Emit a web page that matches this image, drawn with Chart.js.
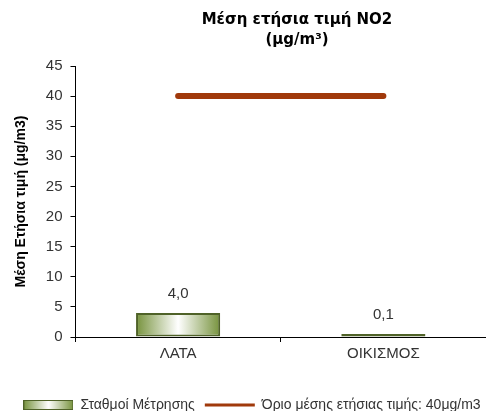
<!doctype html>
<html lang="el">
<head>
<meta charset="utf-8">
<title>Μέση ετήσια τιμή NO2</title>
<style>
  html, body {margin: 0; padding: 0; background: #fff;}
  canvas {display: block;}
</style>
<script src="https://cdn.jsdelivr.net/npm/chart.js@4.4.1/dist/chart.umd.min.js"></script>
</head>
<body>
<canvas id="myChart" width="486" height="411"></canvas>
<script>
// data
var stations = ["ΛΑΤΑ", "ΟΙΚΙΣΜΟΣ"];
var no2Values = [4.0, 0.1];
var limitValues = [40, 40];
var yTicks = [0, 5, 10, 15, 20, 25, 30, 35, 40, 45];
var titleLines = ["Μέση ετήσια τιμή NO2", "(μg/m³)"];
var yTitle = "Μέση Ετήσια τιμή (μg/m3)";
var seriesNames = ["Σταθμοί Μέτρησης", "Όριο μέσης ετήσιας τιμής: 40μg/m3"];

var GREEN = "#76923c";
var GREEN_DARK = "#4f6228";
var RED = "#a0390b";
var BAR_PCT = 0.41;
var LEGEND_BOX = 50;
var FONT = "'Liberation Sans', Arial, sans-serif";

function barGradient(ctx2d, x0, x1) {
  var g = ctx2d.createLinearGradient(x0, 0, x1, 0);
  g.addColorStop(0, GREEN);
  g.addColorStop(0.5, "#ffffff");
  g.addColorStop(1, GREEN);
  return g;
}

// gradient per bar, built from the x scale
function barFill(c) {
  var chart = c.chart;
  var xs = chart.scales.x;
  if (!xs || c.dataIndex === undefined || !chart.chartArea) return GREEN;
  var cx = xs.getPixelForValue(c.dataIndex);
  var half = xs.width / stations.length * BAR_PCT / 2;
  return barGradient(chart.ctx, cx - half, cx + half);
}

// small canvas used as the legend swatch for the bars
var swatch = document.createElement("canvas");
swatch.width = LEGEND_BOX;
swatch.height = 10;
(function() {
  var s = swatch.getContext("2d");
  s.fillStyle = barGradient(s, 0, LEGEND_BOX);
  s.fillRect(0, 0, LEGEND_BOX, 10);
  s.strokeStyle = GREEN_DARK;
  s.lineWidth = 1;
  s.strokeRect(0.5, 0.5, LEGEND_BOX - 1, 9);
})();

// value labels above bars, greek decimal comma
var valueLabels = {
  id: "valueLabels",
  afterDatasetsDraw: function(chart) {
    var ctx = chart.ctx;
    var meta = chart.getDatasetMeta(0);
    ctx.save();
    ctx.font = "15px " + FONT;
    ctx.fillStyle = "#333";
    ctx.textAlign = "center";
    ctx.textBaseline = "bottom";
    meta.data.forEach(function(bar, i) {
      ctx.fillText(no2Values[i].toFixed(1).replace(".", ","), bar.x, bar.y - 12);
    });
    ctx.restore();
  }
};

// two line bold title, a bit right of canvas centre like the original
var titlePlugin = {
  id: "titlePlugin",
  afterDraw: function(chart) {
    var ctx = chart.ctx;
    ctx.save();
    ctx.font = "bold 15px 'DejaVu Sans', Verdana, sans-serif";
    ctx.fillStyle = "#000";
    ctx.textAlign = "center";
    ctx.textBaseline = "middle";
    ctx.fillText(titleLines[0], 297, 20);
    ctx.fillText(titleLines[1], 297, 40);
    ctx.restore();
  }
};

var ctx = document.getElementById("myChart").getContext("2d");
var myChart = new Chart(ctx, {
  data: {
    labels: stations,
    datasets: [{
      type: "bar",
      label: seriesNames[0],
      data: no2Values,
      backgroundColor: barFill,
      borderColor: GREEN_DARK,
      borderWidth: 2,
      borderSkipped: false,
      minBarLength: 3,
      categoryPercentage: 1,
      barPercentage: BAR_PCT,
      order: 2
    }, {
      type: "line",
      label: seriesNames[1],
      data: limitValues,
      borderColor: RED,
      backgroundColor: RED,
      borderWidth: 6,
      borderCapStyle: "round",
      pointRadius: 0,
      pointHoverRadius: 0,
      fill: false,
      order: 1
    }]
  },
  options: {
    responsive: false,
    animation: false,
    events: [],
    layout: {padding: {top: 66, left: 13, right: -5, bottom: -11}},
    scales: {
      x: {
        offset: true,
        grid: {display: true, drawOnChartArea: false, offset: true, tickLength: 5, color: "#000"},
        border: {color: "#000", width: 1},
        ticks: {color: "#333", font: {family: FONT, size: 15}, padding: 3},
        afterFit: function(axis) { axis.height += 22; }
      },
      y: {
        min: 0,
        max: 45,
        afterBuildTicks: function(axis) {
          axis.ticks = yTicks.map(function(v) { return {value: v}; });
        },
        grid: {display: true, drawOnChartArea: false, tickLength: 5, color: "#000"},
        border: {color: "#000", width: 1},
        ticks: {color: "#333", font: {family: FONT, size: 15}, padding: 8},
        title: {
          display: true,
          text: yTitle,
          color: "#000",
          font: {family: FONT, size: 14, weight: "bold"},
          padding: {top: 0, bottom: 8}
        }
      }
    },
    plugins: {
      title: {display: false},
      tooltip: {enabled: false},
      legend: {
        position: "bottom",
        labels: {
          color: "#333",
          font: {family: FONT, size: 14},
          usePointStyle: true,
          pointStyleWidth: LEGEND_BOX,
          boxHeight: 9,
          padding: 10,
          sort: function(a, b) { return a.datasetIndex - b.datasetIndex; },
          generateLabels: function(chart) {
            var items = Chart.defaults.plugins.legend.labels.generateLabels(chart);
            items.forEach(function(it) {
              if (it.datasetIndex === 0) {
                it.pointStyle = swatch;
              } else {
                it.pointStyle = "line";
                it.strokeStyle = RED;
                it.lineWidth = 3;
              }
            });
            return items;
          }
        }
      }
    }
  },
  plugins: [valueLabels, titlePlugin]
});
</script>
</body>
</html>
